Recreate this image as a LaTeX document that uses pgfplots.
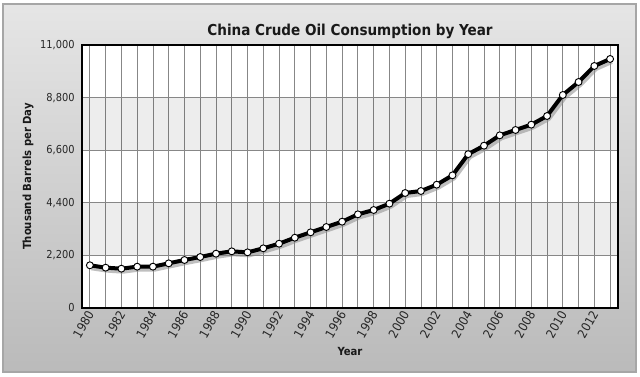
\documentclass[border=0pt]{standalone}
\usepackage{pgfplots}
\pgfplotsset{compat=1.18}
\usepackage{fontspec}
\setmainfont{DejaVu Sans Condensed}
\pgfplotstableread{
year value
1980 1786
1981 1687
1982 1645
1983 1729
1984 1729
1985 1868
1986 2008
1987 2133
1988 2273
1989 2370
1990 2328
1991 2496
1992 2690
1993 2941
1994 3165
1995 3388
1996 3611
1997 3918
1998 4099
1999 4364
2000 4810
2001 4894
2002 5158
2003 5549
2004 6435
2005 6789
2006 7222
2007 7446
2008 7669
2009 8031
2010 8910
2011 9454
2012 10123
2013 10416
}\oil
\begin{document}
\begin{tikzpicture}
\path[use as bounding box] (0pt,0pt) rectangle (480pt,282pt);
\shade[top color=black!10, bottom color=black!27] (2.25pt,3pt) rectangle (477pt,279pt);
\draw[black!35, line width=0.8pt] (2.25pt,3pt) rectangle (477pt,279pt);
\node[font=\bfseries\fontsize{11.3}{13}\selectfont, text=black!90] at (262.5pt,258.75pt) {China Crude Oil Consumption by Year};
\begin{axis}[
  at={(61.5pt,51pt)}, anchor=south west,
  scale only axis, width=402pt, height=197.25pt,
  xmin=1979.5, xmax=2013.5, ymin=0, ymax=11000,
  axis background/.style={fill=white},
  xtick={1980,1982,...,2012},
  minor xtick={1981,1983,...,2013},
  ytick={0,2200,4400,6600,8800,11000},
  grid=both,
  major grid style={black!47, line width=0.6pt},
  minor grid style={black!47, line width=0.6pt},
  major tick length=0pt, minor tick length=0pt,
  axis line style={line width=1.6pt, black},
  tick label style={text=black!85},
  yticklabel style={font=\fontsize{8.2}{9}\selectfont},
  /pgf/number format/assume math mode=true,
  xticklabel style={font=\fontsize{9.3}{10}\selectfont, rotate=60, anchor=east, /pgf/number format/1000 sep={}, yshift=-2pt, xshift=1pt},
  yticklabel style={/pgf/number format/1000 sep={,}, xshift=-2pt},
  scaled y ticks=false,
  xlabel={Year},
  ylabel={Thousand Barrels per Day},
  label style={font=\bfseries\fontsize{8.4}{9}\selectfont, text=black!90},
  xlabel style={at={(axis description cs:0.5,-0.165)}, anchor=center},
  ylabel style={at={(axis description cs:-0.1008,0.5)}, anchor=center},
]
\fill[black, fill opacity=0.07] (axis cs:1979.5,2200) rectangle (axis cs:2013.5,4400);
\fill[black, fill opacity=0.07] (axis cs:1979.5,6600) rectangle (axis cs:2013.5,8800);
\addplot[black!45, opacity=0.55, line width=3.5pt, xshift=1.2pt, yshift=-2pt, no markers] table[x=year,y=value] {\oil};
\addplot[black, line width=3pt, mark=*, mark size=2.6pt,
  mark options={fill=white, draw=black, line width=0.7pt}] table[x=year,y=value] {\oil};
\end{axis}
\end{tikzpicture}
\end{document}
